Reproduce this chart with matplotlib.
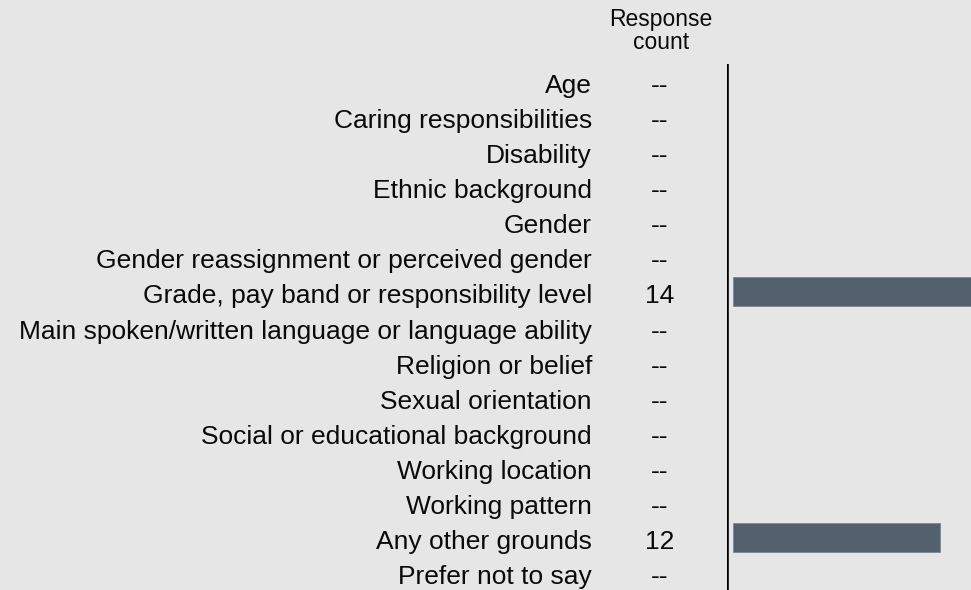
import matplotlib.pyplot as plt
from matplotlib.transforms import blended_transform_factory

plt.rcParams['font.family'] = ['Liberation Sans', 'DejaVu Sans']

categorias = [
    "Age",
    "Caring responsibilities",
    "Disability",
    "Ethnic background",
    "Gender",
    "Gender reassignment or perceived gender",
    "Grade, pay band or responsibility level",
    "Main spoken/written language or language ability",
    "Religion or belief",
    "Sexual orientation",
    "Social or educational background",
    "Working location",
    "Working pattern",
    "Any other grounds",
    "Prefer not to say",
]
conteos = [None, None, None, None, None, None, 14, None, None, None, None, None, None, 12, None]

fondo = "#e6e6e6"
color_barra = "#53616e"

fig = plt.figure(figsize=(9.71, 5.90), dpi=100, facecolor=fondo)
ax = fig.add_axes([727 / 971, 0, 1 - 727 / 971, 526 / 590])
ax.set_facecolor(fondo)

# solo las categorias con datos llevan barra
for i, c in enumerate(conteos):
    if c is not None:
        ax.barh(i, c, height=0.83, color=color_barra, edgecolor="#7a8794", linewidth=0.6)

ax.set_ylim(len(categorias) - 0.5, -0.5)
ax.set_xlim(-0.35, 13.8)
ax.axvline(-0.35, color="black", linewidth=2.6)

for s in ax.spines.values():
    s.set_visible(False)
ax.set_xticks([])
ax.set_yticks([])

trans = blended_transform_factory(fig.transFigure, ax.transData)
for i, (cat, c) in enumerate(zip(categorias, conteos)):
    ax.text(592 / 971, i + 0.13, cat, transform=trans, ha="right", va="center",
            fontsize=19, color="#0a0a0a", clip_on=False)
    ax.text(660 / 971, i + 0.13, "--" if c is None else str(c), transform=trans,
            ha="center", va="center", fontsize=19, color="#0a0a0a", clip_on=False)

fig.text(661 / 971, 1 - 31 / 590, "Response\ncount", ha="center", va="center",
         fontsize=16.5, color="#0a0a0a", linespacing=1.0)

fig.savefig("out.png", dpi=100, facecolor=fondo)
